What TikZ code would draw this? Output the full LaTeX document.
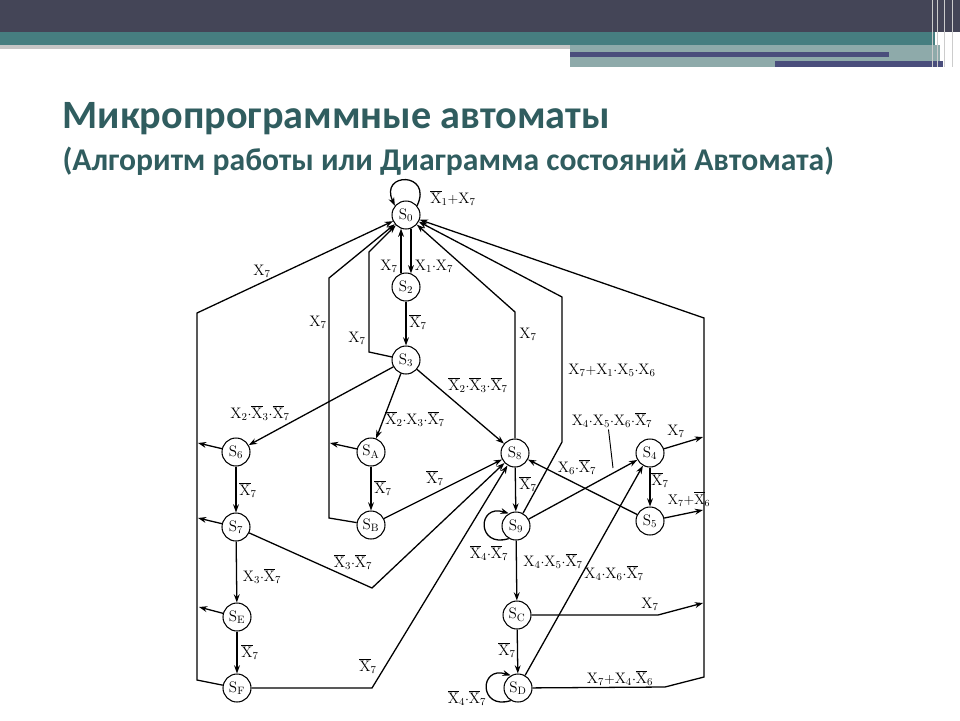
\documentclass[tikz,border=0pt]{standalone}
\usepackage{amsmath}
\usepackage{fontspec}
\newfontfamily\titlefont{Carlito}
\usetikzlibrary{arrows.meta}
\definecolor{hdark}{RGB}{68,69,87}
\definecolor{hteal}{RGB}{70,126,128}
\definecolor{hlight}{RGB}{142,170,170}
\definecolor{hblue}{RGB}{74,78,124}
\definecolor{titlecol}{RGB}{48,93,95}
\newcommand{\Xp}[1]{\mathrm{X}_{#1}}
\newcommand{\Xn}[1]{\overline{\mathrm{X}}_{#1}}
\newcommand{\md}{{\cdot}}
\newcommand{\pl}{{+}}

\begin{document}
\begin{tikzpicture}[x=0.03cm, y=-0.03cm,
	state/.style={draw, circle, line width=0.9pt, minimum size=0.84cm, inner sep=0pt, font=\fontsize{13}{14}\selectfont},
	lbl/.style={inner sep=1pt, font=\fontsize{13}{14}\selectfont},
	arr/.style={-{Stealth[length=7pt, width=5pt]}},
	line width=1.1pt]
			\useasboundingbox (0,0) rectangle (960,720);
			\fill[white] (0,0) rectangle (960,720);
			
			\fill[hdark] (0,0) rectangle (960,32);
			\fill[hteal] (0,32) rectangle (935,45);
			\fill[gray!45] (0,45) rectangle (570,49);
			\fill[hlight] (570,45) rectangle (940,67);
			\fill[hblue] (570,52) rectangle (889,57);
			\fill[hblue] (775,61) rectangle (943,67);
			\foreach \sx in {932,937,944,952}
				\draw[gray!40, line width=0.8pt] (\sx,0) -- (\sx,67);
			
			\node[anchor=base west, text=titlecol, font=\titlefont\bfseries\fontsize{34.3}{38}\selectfont] (title) at (58,128) {Микропрограммные автоматы};
			\node[anchor=base west, text=titlecol, font=\titlefont\bfseries\fontsize{27}{30}\selectfont] (subtitle) at (58,170) {(Алгоритм работы или Диаграмма состояний Автомата)};
			
			\node[state] (S0) at (406,215) {$\mathrm{S}_0$};
			\node[state] (S2) at (406,287) {$\mathrm{S}_2$};
			\node[state] (S3) at (406,360) {$\mathrm{S}_3$};
			\node[state] (S6) at (236,452) {$\mathrm{S}_6$};
			\node[state] (S7) at (236,527) {$\mathrm{S}_7$};
			\node[state] (SE) at (237,617) {$\mathrm{S}_\mathrm{E}$};
			\node[state] (SF) at (237,688) {$\mathrm{S}_\mathrm{F}$};
			\node[state] (SA) at (371,452) {$\mathrm{S}_\mathrm{A}$};
			\node[state] (SB) at (371,525) {$\mathrm{S}_\mathrm{B}$};
			\node[state] (S8) at (515,453) {$\mathrm{S}_8$};
			\node[state] (S9) at (516,526) {$\mathrm{S}_9$};
			\node[state] (SC) at (517,615) {$\mathrm{S}_\mathrm{C}$};
			\node[state] (SD) at (518,688) {$\mathrm{S}_\mathrm{D}$};
			\node[state] (S4) at (650,453) {$\mathrm{S}_4$};
			\node[state] (S5) at (650,521) {$\mathrm{S}_5$};
			
			\coordinate (P3a) at (369,352);
			\coordinate (P3b) at (369,252);
			\coordinate (PBa) at (329,518);
			\coordinate (PBb) at (329,278);
			\coordinate (PLa) at (197,680);
			\coordinate (PLb) at (197,313);
			\coordinate (P8a) at (515,312);
			\coordinate (P9a) at (562,442);
			\coordinate (P9b) at (562,297);
			\coordinate (PDa) at (665,687);
			\coordinate (PDb) at (704,677);
			\coordinate (PRb) at (704,318);
			\coordinate (PCa) at (658,615);
			\coordinate (PCb) at (703,603);
			\coordinate (P7a) at (372,588);
			\coordinate (PFa) at (372,688);
			\coordinate (T6) at (198,443);
			\coordinate (T7) at (198,518);
			\coordinate (TE) at (199,607);
			\coordinate (TA) at (330,443);
			\coordinate (T4) at (703,437);
			\coordinate (T5) at (703,510);
			\coordinate (TL) at (613,468);
			
			\draw[arr] (S0.40) .. controls +(16,-34) and +(-16,-34) .. (S0.140);
			\draw[arr] (S2.110) -- (S0.250);
			\draw[arr] (S0.290) -- (S2.70);
			\draw[arr] (S2) -- (S3);
			\draw[arr] (S3) -- (P3a) -- (P3b) -- (S0);
			\draw[arr] (SB) -- (PBa) -- (PBb) -- (S0);
			\draw[arr] (SF) -- (PLa) -- (PLb) -- (S0);
			\draw[arr] (S8) -- (P8a) -- (S0);
			\draw[arr] (S9) -- (P9a) -- (P9b) -- (S0);
			\draw[arr] (SD) -- (PDa) -- (PDb) -- (PRb) -- (S0);
			
			\draw[arr] (S3) -- (S6);
			\draw[arr] (S3) -- (SA);
			\draw[arr] (S3) -- (S8);
			\draw[arr] (S6) -- (S7);
			\draw[arr] (S7) -- (SE);
			\draw[arr] (SE) -- (SF);
			\draw[arr] (SA) -- (SB);
			\draw[arr] (SB) -- (S8);
			\draw[arr] (S7) -- (P7a) -- (S8);
			\draw[arr] (SF) -- (PFa) -- (S8);
			\draw[arr] (S8) -- (S9);
			\draw[arr] (S9) -- (SC);
			\draw[arr] (SC) -- (SD);
			\draw[arr] (S9) -- (S4);
			\draw[arr] (SD) -- (S4);
			\draw[arr] (S4) -- (S5);
			\draw[arr] (S5) -- (S8);
			\draw[arr] (S9.240) .. controls +(-32,10) and +(-32,-10) .. (S9.120);
			\draw[arr] (SD.240) .. controls +(-32,10) and +(-32,-10) .. (SD.120);
			
			\draw[arr] (S6) -- (T6);
			\draw[arr] (S7) -- (T7);
			\draw[arr] (SE) -- (TE);
			\draw[arr] (SA) -- (TA);
			\draw[arr] (S4) -- (T4);
			\draw[arr] (S5) -- (T5);
			\draw[arr] (SC) -- (PCa) -- (PCb);
			
			\node[lbl] (l00) at (453,198) {$\Xn{1}\pl\Xp{7}$};
			\node[lbl] (l20) at (389,266) {$\Xp{7}$};
			\node[lbl] (l02) at (434,266) {$\Xp{1}\md\Xp{7}$};
			\node[lbl] (l23) at (418,322) {$\Xn{7}$};
			\node[lbl] (l30) at (357,338) {$\Xp{7}$};
			\node[lbl] (lB0) at (318,322) {$\Xp{7}$};
			\node[lbl] (lF0) at (262,271) {$\Xp{7}$};
			\node[lbl] (l80) at (528,334) {$\Xp{7}$};
			\node[lbl] (l90) at (612,370) {$\Xp{7}\pl\Xp{1}\md\Xp{5}\md\Xp{6}$};
			\node[lbl] (l36) at (260,413) {$\Xp{2}\md\Xn{3}\md\Xn{7}$};
			\node[lbl] (l3A) at (415,419) {$\Xn{2}\md\Xp{3}\md\Xn{7}$};
			\node[lbl] (l38) at (478,385) {$\Xn{2}\md\Xn{3}\md\Xn{7}$};
			\node[lbl] (l67) at (248,490) {$\Xn{7}$};
			\node[lbl] (l7E) at (262,576) {$\Xp{3}\md\Xn{7}$};
			\node[lbl] (lEF) at (250,652) {$\Xn{7}$};
			\node[lbl] (lAB) at (383,488) {$\Xn{7}$};
			\node[lbl] (lB8) at (435,478) {$\Xn{7}$};
			\node[lbl] (l78) at (353,562) {$\Xn{3}\md\Xn{7}$};
			\node[lbl] (lF8) at (368,666) {$\Xn{7}$};
			\node[lbl] (l89) at (528,484) {$\Xn{7}$};
			\node[lbl] (l58) at (577,467) {$\Xp{6}\md\Xn{7}$};
			\node[lbl] (l94) at (612,420) {$\Xp{4}\md\Xp{5}\md\Xp{6}\md\Xn{7}$};
			\node[lbl] (lD4) at (614,573) {$\Xp{4}\md\Xp{6}\md\Xn{7}$};
			\node[lbl] (l45) at (660,480) {$\Xn{7}$};
			\node[lbl] (l4R) at (676,431) {$\Xp{7}$};
			\node[lbl, font=\fontsize{12}{13}\selectfont] (l5R) at (689,499) {$\Xp{7}\pl\Xn{6}$};
			\node[lbl] (l99) at (489,553) {$\Xn{4}\md\Xn{7}$};
			\node[lbl] (l9C) at (553,561) {$\Xp{4}\md\Xp{5}\md\Xn{7}$};
			\node[lbl] (lCD) at (507,650) {$\Xn{7}$};
			\node[lbl] (lCR) at (650,604) {$\Xp{7}$};
			\node[lbl] (lDR) at (620,678) {$\Xp{7}\pl\Xp{4}\md\Xn{6}$};
			\node[lbl] (lDD) at (467,698) {$\Xn{4}\md\Xn{7}$};
			\draw[line width=0.8pt] ([xshift=-3pt]l94.south) -- (TL);
			\end{tikzpicture}
\end{document}
